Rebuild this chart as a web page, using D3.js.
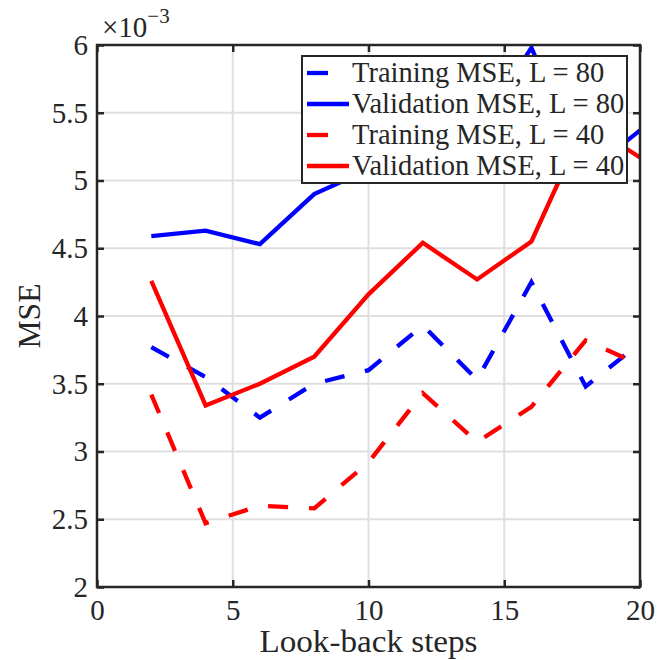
<!DOCTYPE html>
<html>
<head>
<meta charset="utf-8">
<script src="https://cdn.jsdelivr.net/npm/d3@7"></script>
<style>
  body { margin: 0; background: #fff; }
  svg text { font-family: "Liberation Serif", "DejaVu Serif", serif !important; fill: #262626; }
</style>
</head>
<body>
<svg id="chart" width="667" height="660"></svg>
<script>
// look-back steps
var steps = [2, 4, 6, 8, 10, 12, 14, 16, 18, 20];

// MSE values, in units of 1e-3
var trainL80 = [3.77, 3.55, 3.25, 3.50, 3.60, 3.93, 3.53, 4.25, 3.48, 3.80];
var validL80 = [4.59, 4.63, 4.53, 4.90, 5.08, 5.20, 5.35, 5.98, 5.05, 5.37];
var trainL40 = [3.42, 2.47, 2.60, 2.58, 2.92, 3.43, 3.07, 3.33, 3.82, 3.64];
var validL40 = [4.26, 3.34, 3.50, 3.70, 4.16, 4.54, 4.27, 4.55, 5.43, 5.17];

var xTicks = [0, 5, 10, 15, 20];
var yTicks = [2, 2.5, 3, 3.5, 4, 4.5, 5, 5.5, 6];

var series = [
  { name: "Training MSE, L = 80",   values: trainL80, color: "#0000ff", dashed: true },
  { name: "Validation MSE, L = 80", values: validL80, color: "#0000ff", dashed: false },
  { name: "Training MSE, L = 40",   values: trainL40, color: "#ff0000", dashed: true },
  { name: "Validation MSE, L = 40", values: validL40, color: "#ff0000", dashed: false }
];

var svg = d3.select("#chart");
var pLeft = 97, pRight = 640, pTop = 45, pBottom = 587;
var axisColor = "#262626";
var serif = '"Liberation Serif", "DejaVu Serif", serif';

var x = d3.scaleLinear().domain([0, 20]).range([pLeft, pRight]);
var y = d3.scaleLinear().domain([2, 6]).range([pBottom, pTop]);

// grid
var grid = svg.append("g");
grid.selectAll(".gx").data(xTicks).enter().append("line")
  .attr("x1", d => x(d)).attr("x2", d => x(d))
  .attr("y1", pTop).attr("y2", pBottom)
  .attr("stroke", "#dfdfdf").attr("stroke-width", 2);
grid.selectAll(".gy").data(yTicks).enter().append("line")
  .attr("x1", pLeft).attr("x2", pRight)
  .attr("y1", d => y(d)).attr("y2", d => y(d))
  .attr("stroke", "#dfdfdf").attr("stroke-width", 2);

// data lines
svg.append("clipPath").attr("id", "clip").append("rect")
  .attr("x", pLeft).attr("y", pTop).attr("width", pRight - pLeft).attr("height", pBottom - pTop);

var line = d3.line().x((d, i) => x(steps[i])).y(d => y(d));

svg.append("g").attr("clip-path", "url(#clip)")
  .selectAll("path").data(series).enter().append("path")
  .attr("d", d => line(d.values))
  .attr("fill", "none")
  .attr("stroke", d => d.color)
  .attr("stroke-width", 4.3)
  .attr("stroke-dasharray", d => d.dashed ? "20,21" : null);

// axes (ticks inside, on all four sides)
var tickLen = 7;
var ax = svg.append("g");
ax.append("g").attr("transform", `translate(0,${pBottom})`)
  .call(d3.axisBottom(x).tickValues(xTicks).tickSize(-tickLen).tickPadding(12).tickFormat(d3.format("d")));
ax.append("g").attr("transform", `translate(0,${pTop})`)
  .call(d3.axisTop(x).tickValues(xTicks).tickSize(-tickLen).tickFormat(""));
ax.append("g").attr("transform", `translate(${pLeft},0)`)
  .call(d3.axisLeft(y).tickValues(yTicks).tickSize(-tickLen).tickPadding(9).tickFormat(d => String(d)));
ax.append("g").attr("transform", `translate(${pRight},0)`)
  .call(d3.axisRight(y).tickValues(yTicks).tickSize(-tickLen).tickFormat(""));

ax.selectAll("g").attr("font-family", serif);
ax.selectAll(".domain").remove();
ax.selectAll(".tick line").attr("stroke", axisColor).attr("stroke-width", 2.5);
ax.selectAll(".tick text").style("font-size", "29px").style("font-family", serif).attr("fill", axisColor);

ax.append("rect")
  .attr("x", pLeft).attr("y", pTop).attr("width", pRight - pLeft).attr("height", pBottom - pTop)
  .attr("fill", "none").attr("stroke", axisColor).attr("stroke-width", 2.5);

// exponent label
var expo = svg.append("text").attr("x", 102).attr("y", 37).style("font-size", "29px");
expo.append("tspan").text("\u00d710");
expo.append("tspan").attr("dy", -14).style("font-size", "21px").text("\u22123");

// axis labels
svg.append("text")
  .attr("x", (pLeft + pRight) / 2).attr("y", 652)
  .attr("text-anchor", "middle").style("font-size", "31px")
  .attr("textLength", 218).attr("lengthAdjust", "spacingAndGlyphs")
  .text("Look-back steps");
svg.append("text")
  .attr("transform", "translate(40,316) rotate(-90)")
  .attr("text-anchor", "middle").style("font-size", "31px")
  .attr("textLength", 65).attr("lengthAdjust", "spacingAndGlyphs")
  .text("MSE");

// legend
var lg = svg.append("g");
lg.append("rect")
  .attr("x", 302).attr("y", 56).attr("width", 325).attr("height", 127)
  .attr("fill", "#fff").attr("stroke", axisColor).attr("stroke-width", 2);
var rows = lg.selectAll(".row").data(series).enter().append("g")
  .attr("transform", (d, i) => `translate(0,${73 + i * 31})`);
rows.append("line")
  .attr("x1", 307).attr("x2", 349).attr("y1", 0).attr("y2", 0)
  .attr("stroke", d => d.color).attr("stroke-width", 4.3)
  .attr("stroke-dasharray", d => d.dashed ? "21,30" : null);
rows.append("text")
  .attr("x", 352).attr("y", 9).style("font-size", "28.5px")
  .attr("fill", "#000")
  .text(d => d.name);
</script>
</body>
</html>
